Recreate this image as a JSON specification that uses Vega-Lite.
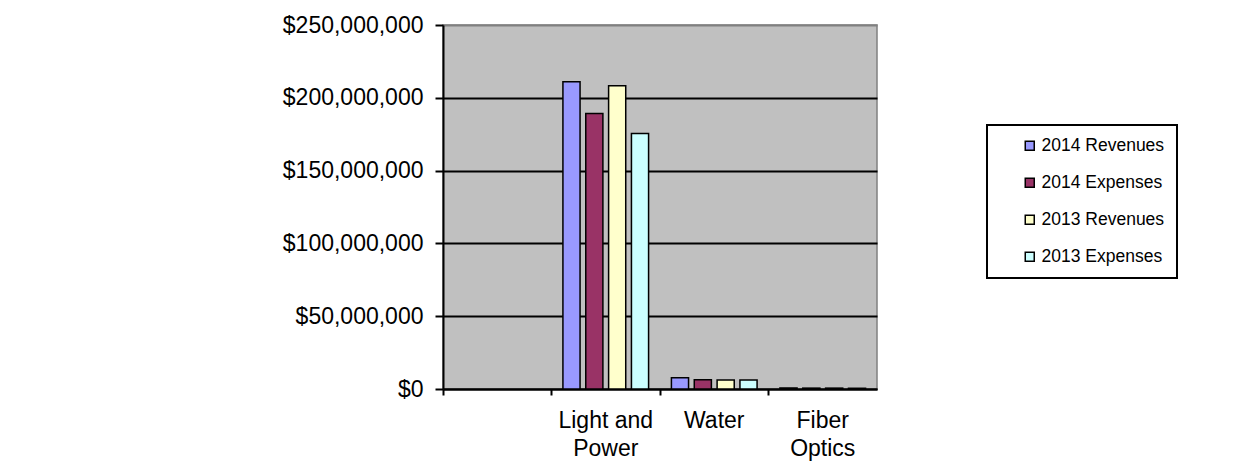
{
  "$schema": "https://vega.github.io/schema/vega-lite/v6.json",
  "autosize": "none",
  "width": 434,
  "height": 364,
  "padding": {"left": 443, "top": 25, "right": 358, "bottom": 80},
  "background": "white",
  "config": {
    "font": "Liberation Sans",
    "view": {"fill": "#C0C0C0", "stroke": "#808080", "strokeWidth": 1.5},
    "legend": {"strokeWidth": 2}
  },
  "data": {
    "values": [
      {"category": "Light and Power", "series": "2014 Revenues", "amount": 211000000},
      {"category": "Light and Power", "series": "2014 Expenses", "amount": 189300000},
      {"category": "Light and Power", "series": "2013 Revenues", "amount": 208300000},
      {"category": "Light and Power", "series": "2013 Expenses", "amount": 175400000},
      {"category": "Water", "series": "2014 Revenues", "amount": 7800000},
      {"category": "Water", "series": "2014 Expenses", "amount": 6400000},
      {"category": "Water", "series": "2013 Revenues", "amount": 6200000},
      {"category": "Water", "series": "2013 Expenses", "amount": 6200000},
      {"category": "Fiber Optics", "series": "2014 Revenues", "amount": 700000},
      {"category": "Fiber Optics", "series": "2014 Expenses", "amount": 600000},
      {"category": "Fiber Optics", "series": "2013 Revenues", "amount": 600000},
      {"category": "Fiber Optics", "series": "2013 Expenses", "amount": 500000}
    ]
  },
  "mark": {"type": "bar", "stroke": "black", "strokeWidth": 1.5},
  "encoding": {
    "x": {
      "field": "category",
      "type": "nominal",
      "sort": null,
      "scale": {"domain": [" ", "Light and Power", "Water", "Fiber Optics"], "paddingInner": 0, "paddingOuter": 0},
      "axis": {
        "title": null,
        "labelAngle": 0,
        "labelFontSize": 23,
        "labelColor": "black",
        "labelPadding": 14,
        "labelLineHeight": 28,
        "labelExpr": "datum.value == 'Light and Power' ? ['Light and', 'Power'] : datum.value == 'Fiber Optics' ? ['Fiber', 'Optics'] : datum.value",
        "bandPosition": 0,
        "tickSize": 6,
        "tickWidth": 2,
        "tickColor": "black",
        "domainColor": "black",
        "domainWidth": 2,
        "grid": false
      }
    },
    "xOffset": {
      "field": "series",
      "type": "nominal",
      "sort": ["2014 Revenues", "2014 Expenses", "2013 Revenues", "2013 Expenses"],
      "scale": {"paddingInner": 0.25, "paddingOuter": 0.5}
    },
    "y": {
      "field": "amount",
      "type": "quantitative",
      "scale": {"domain": [0, 250000000], "nice": false},
      "axis": {
        "title": null,
        "values": [0, 50000000, 100000000, 150000000, 200000000, 250000000],
        "format": "$,.0f",
        "labelFontSize": 23,
        "labelColor": "black",
        "labelPadding": 12,
        "tickSize": 8,
        "tickWidth": 2,
        "tickColor": "black",
        "domainColor": "black",
        "domainWidth": 2,
        "grid": true,
        "gridColor": {"condition": {"test": "datum.value == 250000000", "value": "#808080"}, "value": "black"},
        "gridWidth": 2,
        "gridOpacity": 1
      }
    },
    "color": {
      "field": "series",
      "type": "nominal",
      "sort": ["2014 Revenues", "2014 Expenses", "2013 Revenues", "2013 Expenses"],
      "scale": {"range": ["#9999FF", "#993366", "#FFFFCC", "#CCFFFF"]},
      "legend": {
        "title": null,
        "orient": "none",
        "legendX": 544,
        "legendY": 100,
        "symbolType": "square",
        "symbolSize": 81,
        "symbolStrokeColor": "black",
        "symbolStrokeWidth": 1.5,
        "symbolOffset": 22,
        "labelFontSize": 17.5,
        "labelColor": "black",
        "labelOffset": 3,
        "rowPadding": 18,
        "padding": 12,
        "strokeColor": "black",
        "fillColor": "white"
      }
    }
  }
}
